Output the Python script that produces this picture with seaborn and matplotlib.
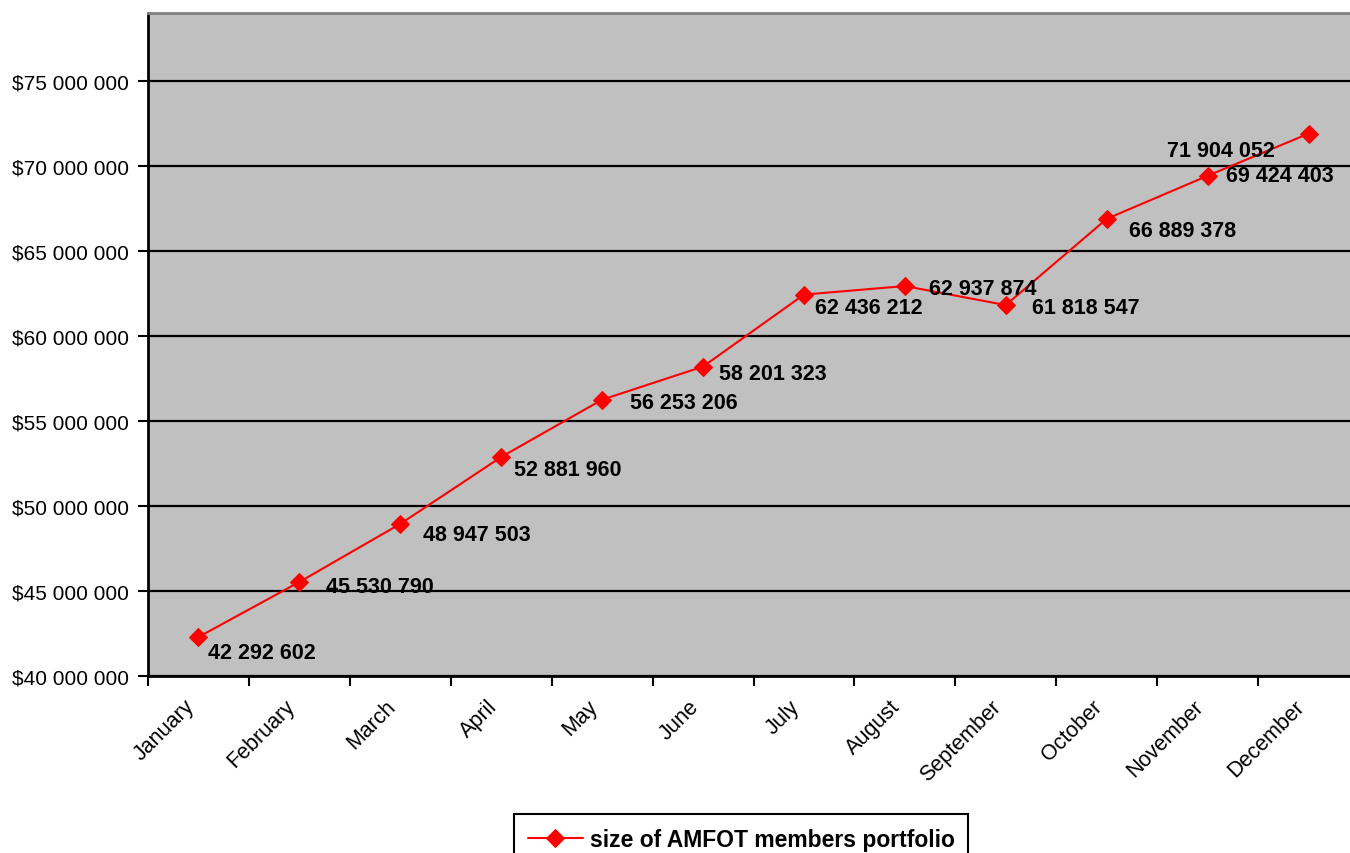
import matplotlib
matplotlib.use("Agg")
import matplotlib.pyplot as plt
from matplotlib.ticker import FuncFormatter, FixedLocator
from matplotlib.transforms import ScaledTranslation
import numpy as np
import pandas as pd
import seaborn as sns

months = ["January", "February", "March", "April", "May", "June", "July",
          "August", "September", "October", "November", "December"]
portfolio = [42292602, 45530790, 48947503, 52881960, 56253206, 58201323,
             62436212, 62937874, 61818547, 66889378, 69424403, 71904052]
series_name = "size of AMFOT members portfolio"

# label placement relative to each marker, in pixels (x right, y up)
label_offsets = [(10, -15), (27, -5), (23, -11), (13, -12), (28, -3), (16, -7),
                 (11, -13), (24, -2), (26, -2), (22, -12), (18, 0), (-142, -17)]

sns.set_theme(style="white")
plt.rcParams["font.family"] = ["Liberation Sans", "DejaVu Sans"]
plt.rcParams["text.color"] = "black"
plt.rcParams["xtick.color"] = "black"
plt.rcParams["ytick.color"] = "black"

df = pd.DataFrame({"pos": np.arange(len(months)), "value": portfolio,
                   "series": series_name})

fig = plt.figure(figsize=(13.5, 8.54), dpi=100)
ax = fig.add_axes([148 / 1350, 1 - 677 / 854, 1211 / 1350, (677 - 14) / 854])
ax.set_facecolor("#C0C0C0")

sns.lineplot(data=df, x="pos", y="value", hue="series", palette=["#FF0000"],
             marker="D", markersize=9, markeredgecolor="#FF0000",
             linewidth=1.5, ax=ax, zorder=3)

ax.set_xlim(-0.5, len(months) - 0.5)
ax.set_ylim(40e6, 79e6)

ax.yaxis.set_major_locator(FixedLocator(np.arange(40e6, 79e6, 5e6)))
ax.yaxis.set_major_formatter(FuncFormatter(lambda v, _: "$" + f"{v:,.0f}".replace(",", " ")))
ax.yaxis.grid(True, color="black", linewidth=1.6)
ax.set_axisbelow(True)

ax.set_xticks(np.arange(len(months)))
ax.set_xticklabels(months, rotation=45, ha="right", rotation_mode="anchor")
ax.set_xticks(np.arange(-0.5, len(months)), minor=True)
ax.tick_params(axis="x", which="major", length=0, pad=14, labelsize=15.5,
               labelcolor="black")
ax.tick_params(axis="x", which="minor", length=7, width=1.5, color="black",
               direction="out", bottom=True)
ax.tick_params(axis="y", which="major", length=7, width=1.5, color="black",
               direction="out", left=True, labelsize=15, pad=7,
               labelcolor="black")
shift = ScaledTranslation(-15 / 100, 0, fig.dpi_scale_trans)
for lab in ax.get_xticklabels():
    lab.set_transform(lab.get_transform() + shift)

ax.set_xlabel("")
ax.set_ylabel("")

for side in ("left", "bottom"):
    ax.spines[side].set_color("black")
    ax.spines[side].set_linewidth(2)
ax.spines["top"].set_color("#808080")
ax.spines["top"].set_linewidth(2)
ax.spines["right"].set_visible(False)

for i, v in enumerate(portfolio):
    dx, dy = label_offsets[i]
    ax.annotate(f"{v:,}".replace(",", " "), xy=(i, v), xytext=(dx, dy),
                textcoords="offset pixels", ha="left", va="center",
                fontsize=15.5, fontweight="bold", color="black", zorder=4)

ax.get_legend().remove()
handles, labels = ax.get_legend_handles_labels()
leg = fig.legend(handles, labels, loc="upper center",
                 bbox_to_anchor=(741 / 1350, 1 - 815 / 854),
                 frameon=True, fancybox=False, framealpha=1,
                 handlelength=2.4, handletextpad=0.3, borderpad=0.6,
                 borderaxespad=0, prop={"weight": "bold", "size": 16.5})
leg.get_frame().set_edgecolor("black")
leg.get_frame().set_linewidth(1.5)
for t in leg.get_texts():
    t.set_color("black")

fig.savefig("out.png", dpi=100, facecolor="white")
